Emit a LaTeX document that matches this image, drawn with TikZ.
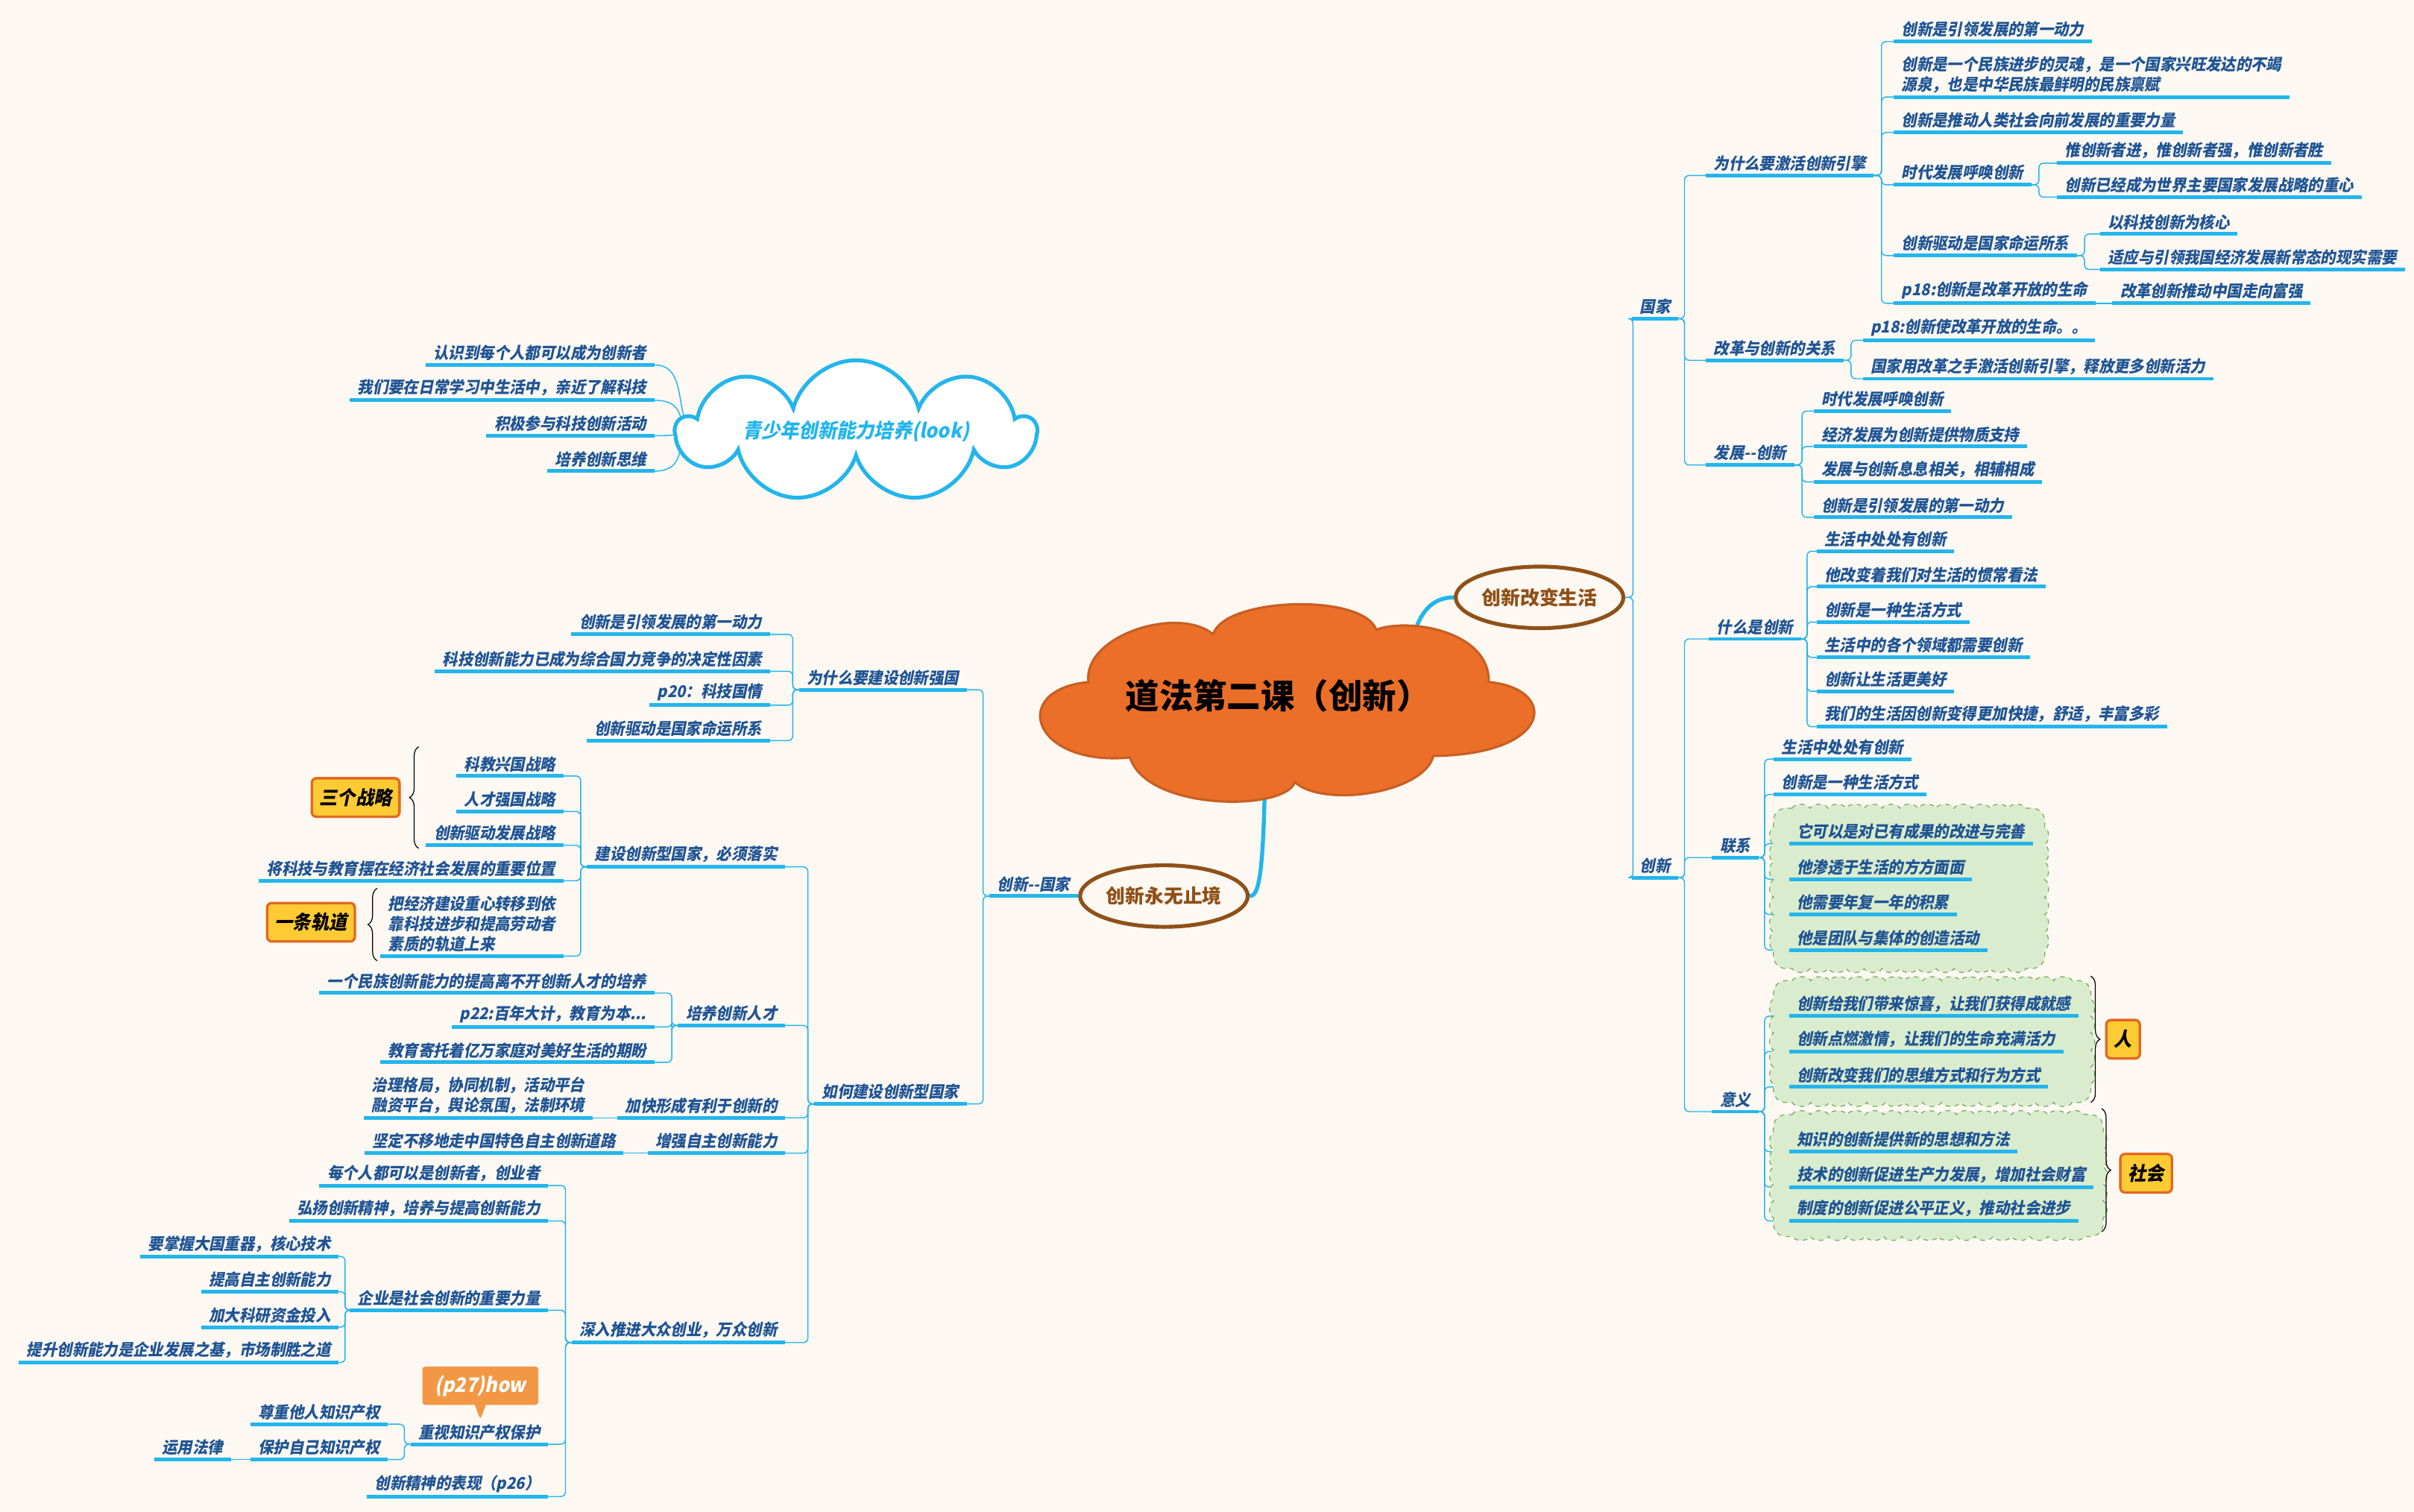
\documentclass[tikz,border=0pt]{standalone}
\usepackage{fontspec}
\setmainfont{Noto Sans CJK SC}
\newfontfamily\itfont[FakeSlant=0.2,FakeStretch=0.94]{Noto Sans CJK SC}
\usetikzlibrary{shapes.geometric,shapes.symbols,shapes.callouts}
\usetikzlibrary{decorations.pathreplacing}
\usetikzlibrary{backgrounds}
\definecolor{paperColor}{RGB}{253,248,242}
\definecolor{inkColor}{RGB}{31,84,148}
\definecolor{lineColor}{RGB}{35,181,236}
\definecolor{topicColor}{RGB}{143,80,24}
\definecolor{rootColor}{RGB}{235,111,40}
\colorlet{rootEdge}{rootColor!85!black}
\definecolor{greenFill}{RGB}{218,236,206}
\definecolor{greenEdge}{RGB}{112,173,90}
\definecolor{tagColor}{RGB}{255,203,52}
\definecolor{tagEdge}{RGB}{226,104,32}
\definecolor{noteColor}{RGB}{242,152,68}
\tikzset{
  uline/.style={draw=lineColor, line width=2.4pt},
  item/.style={font=\itfont\bfseries\fontsize{10.5}{13}\selectfont, text=inkColor,
    inner xsep=5pt, inner ysep=2.5pt, align=left,
    append after command={(\tikzlastnode.south west) edge[uline] (\tikzlastnode.south east)}},
  rnode/.style={item, anchor=south west},
  lnode/.style={item, anchor=south east},
  conn/.style={draw=lineColor, line width=0.7pt, rounded corners=3pt},
  mainlink/.style={draw=lineColor, line width=2.6pt},
  rootcloud/.style={fill=rootColor, draw=rootEdge, line width=1.5pt},
  roottext/.style={font=\bfseries\fontsize{22}{26}\selectfont},
  topic/.style={ellipse, draw=topicColor, line width=2.5pt, fill=paperColor, text=topicColor,
    minimum width=100pt, minimum height=40pt, inner sep=1pt,
    font=\bfseries\fontsize{12.5}{15}\selectfont},
  youthcloud/.style={cloud, cloud puffs=9, cloud ignores aspect, inner sep=0pt, fill=white,
    draw=lineColor, line width=2.5pt, minimum width=232pt, minimum height=92pt, text=lineColor,
    font=\itfont\bfseries\fontsize{13}{15}\selectfont},
  greencloud/.style={fill=greenFill, draw=greenEdge, dashed, line width=0.6pt},
  tag/.style={draw=tagEdge, line width=1.6pt, fill=tagColor, rounded corners=3pt,
    inner xsep=5pt, minimum height=25pt, font=\itfont\bfseries\fontsize{12.5}{15}\selectfont},
  bracket/.style={decorate, decoration={brace, amplitude=6pt}, line width=0.6pt},
  note/.style={rectangle callout, fill=noteColor, text=white, rounded corners=2pt,
    inner xsep=8pt, minimum height=25pt, font=\itfont\bfseries\fontsize{13}{15}\selectfont},
}
% scalloped box: x0 y0 x1 y1
\newcommand{\bubblebox}[4]{%
  \pgfmathsetmacro{\gbW}{#3-#1-24}
  \pgfmathtruncatemacro{\gbNx}{round(\gbW/12)}
  \pgfmathsetmacro{\gbSx}{\gbW/\gbNx}
  \pgfmathsetmacro{\gbH}{#4-#2-24}
  \pgfmathtruncatemacro{\gbNy}{round(\gbH/12)}
  \pgfmathsetmacro{\gbSy}{\gbH/\gbNy}
  \draw[greencloud] (#1+12,#2)
    \foreach \i in {1,...,\gbNx} { .. controls +(0.15*\gbSx,-3.5) and +(-0.15*\gbSx,-3.5) .. ++(\gbSx,0) }
    .. controls +(9,-1) and +(1,-9) .. ++(12,12)
    \foreach \i in {1,...,\gbNy} { .. controls +(3.5,0.15*\gbSy) and +(3.5,-0.15*\gbSy) .. ++(0,\gbSy) }
    .. controls +(1,9) and +(9,1) .. ++(-12,12)
    \foreach \i in {1,...,\gbNx} { .. controls +(-0.15*\gbSx,3.5) and +(0.15*\gbSx,3.5) .. ++(-\gbSx,0) }
    .. controls +(-9,1) and +(-1,9) .. ++(-12,-12)
    \foreach \i in {1,...,\gbNy} { .. controls +(-3.5,-0.15*\gbSy) and +(-3.5,0.15*\gbSy) .. ++(0,-\gbSy) }
    .. controls +(-1,-9) and +(-9,-1) .. ++(12,-12) -- cycle;
}

\begin{document}
\begin{tikzpicture}[x=1pt,y=-1pt]
  \useasboundingbox (0,0) rectangle (1568,982);

  % green backgrounds
  \bubblebox{1152}{525}{1328}{629}
  \bubblebox{1152}{637}{1358}{716}
  \bubblebox{1152}{724}{1366}{803}

  % centre cloud
  \draw[rootcloud] (707,443)
    .. controls (703,413) and (765,393) .. (788,412)
    .. controls (795,388) and (885,385) .. (894,409)
    .. controls (915,401) and (968,410) .. (967,443)
    .. controls (1012,447) and (1010,490) .. (931,491)
    .. controls (925,515) and (860,525) .. (841,508)
    .. controls (835,527) and (745,527) .. (734,492)
    .. controls (670,498) and (655,448) .. (707,443) -- cycle;
  \node[roottext] (root) at (830,452) {道法第二课（创新）};
  \node[topic] (life) at (1000,388) {创新改变生活};
  \node[topic] (endless) at (756,582) {创新永无止境};
  \node[youthcloud] (youth) at (556,280) {青少年创新能力培养(look)};

  % right side
  \node[rnode] (gj) at (1060,207) {国家};
  \node[rnode] (cx) at (1060,570) {创新};
  \node[rnode] (q1) at (1108,114) {为什么要激活创新引擎};
  \node[rnode] (q2) at (1108,234) {改革与创新的关系};
  \node[rnode] (q3) at (1108,302) {发展--创新};
  \node[rnode] (a1) at (1230,27) {创新是引领发展的第一动力};
  \node[rnode] (a2) at (1230,63) {创新是一个民族进步的灵魂，是一个国家兴旺发达的不竭\\源泉，也是中华民族最鲜明的民族禀赋};
  \node[rnode] (a3) at (1230,86) {创新是推动人类社会向前发展的重要力量};
  \node[rnode] (a4) at (1230,120) {时代发展呼唤创新};
  \node[rnode] (a41) at (1336,106) {惟创新者进，惟创新者强，惟创新者胜};
  \node[rnode] (a42) at (1336,128) {创新已经成为世界主要国家发展战略的重心};
  \node[rnode] (a5) at (1230,166) {创新驱动是国家命运所系};
  \node[rnode] (a51) at (1364,152) {以科技创新为核心};
  \node[rnode] (a52) at (1364,175) {适应与引领我国经济发展新常态的现实需要};
  \node[rnode] (a6) at (1230,197) {p18:创新是改革开放的生命};
  \node[rnode] (a61) at (1372,197) {改革创新推动中国走向富强};
  \node[rnode] (b1) at (1210,221) {p18:创新使改革开放的生命。。};
  \node[rnode] (b2) at (1210,246) {国家用改革之手激活创新引擎，释放更多创新活力};
  \node[rnode] (c1) at (1178,267) {时代发展呼唤创新};
  \node[rnode] (c2) at (1178,290) {经济发展为创新提供物质支持};
  \node[rnode] (c3) at (1178,313) {发展与创新息息相关，相辅相成};
  \node[rnode] (c4) at (1178,336) {创新是引领发展的第一动力};
  \node[rnode] (w1) at (1110,415) {什么是创新};
  \node[rnode] (w2) at (1112,557) {联系};
  \node[rnode] (w3) at (1112,722) {意义};
  \node[rnode] (d1) at (1180,358) {生活中处处有创新};
  \node[rnode] (d2) at (1180,381) {他改变着我们对生活的惯常看法};
  \node[rnode] (d3) at (1180,404) {创新是一种生活方式};
  \node[rnode] (d4) at (1180,427) {生活中的各个领域都需要创新};
  \node[rnode] (d5) at (1180,449) {创新让生活更美好};
  \node[rnode] (d6) at (1180,472) {我们的生活因创新变得更加快捷，舒适，丰富多彩};
  \node[rnode] (e1) at (1152,493) {生活中处处有创新};
  \node[rnode] (e2) at (1152,516) {创新是一种生活方式};
  \node[rnode] (e3) at (1162,548) {它可以是对已有成果的改进与完善};
  \node[rnode] (e4) at (1162,571) {他渗透于生活的方方面面};
  \node[rnode] (e5) at (1162,594) {他需要年复一年的积累};
  \node[rnode] (e6) at (1162,617) {他是团队与集体的创造活动};
  \node[rnode] (f1) at (1162,660) {创新给我们带来惊喜，让我们获得成就感};
  \node[rnode] (f2) at (1162,683) {创新点燃激情，让我们的生命充满活力};
  \node[rnode] (f3) at (1162,706) {创新改变我们的思维方式和行为方式};
  \node[rnode] (f4) at (1162,748) {知识的创新提供新的思想和方法};
  \node[rnode] (f5) at (1162,771) {技术的创新促进生产力发展，增加社会财富};
  \node[rnode] (f6) at (1162,793) {制度的创新促进公平正义，推动社会进步};
  \node[tag] (person) at (1379,675) {人};
  \node[tag] (society) at (1394,762) {社会};
  \draw[bracket] (1358,634) -- (1358,716);
  \draw[bracket] (1365,720) -- (1365,800);

  % left side
  \node[lnode] (gk) at (700,582) {创新--国家};
  \node[lnode] (h1) at (628,448) {为什么要建设创新强国};
  \node[lnode] (h2) at (628,717) {如何建设创新型国家};
  \node[lnode] (i1) at (500,412) {创新是引领发展的第一动力};
  \node[lnode] (i2) at (500,436) {科技创新能力已成为综合国力竞争的决定性因素};
  \node[lnode] (i3) at (500,458) {p20：科技国情};
  \node[lnode] (i4) at (500,481) {创新驱动是国家命运所系};
  \node[lnode] (j1) at (510,563) {建设创新型国家，必须落实};
  \node[lnode] (j2) at (510,666) {培养创新人才};
  \node[lnode] (j3) at (510,726) {加快形成有利于创新的};
  \node[lnode] (j4) at (510,749) {增强自主创新能力};
  \node[lnode] (j5) at (510,872) {深入推进大众创业，万众创新};
  \node[lnode] (k1) at (366,504) {科教兴国战略};
  \node[lnode] (k2) at (366,527) {人才强国战略};
  \node[lnode] (k3) at (366,549) {创新驱动发展战略};
  \node[lnode] (k4) at (366,572) {将科技与教育摆在经济社会发展的重要位置};
  \node[lnode] (k5) at (366,621) {把经济建设重心转移到依\\靠科技进步和提高劳动者\\素质的轨道上来};
  \node[lnode] (l1) at (425,645) {一个民族创新能力的提高离不开创新人才的培养};
  \node[lnode] (l2) at (425,667) {p22:百年大计，教育为本...};
  \node[lnode] (l3) at (425,690) {教育寄托着亿万家庭对美好生活的期盼};
  \node[lnode] (m1) at (385,726) {治理格局，协同机制，活动平台\\融资平台，舆论氛围，法制环境};
  \node[lnode] (n1) at (405,749) {坚定不移地走中国特色自主创新道路};
  \node[lnode] (o1) at (356,770) {每个人都可以是创新者，创业者};
  \node[lnode] (o2) at (356,793) {弘扬创新精神，培养与提高创新能力};
  \node[lnode] (o3) at (356,851) {企业是社会创新的重要力量};
  \node[lnode] (o4) at (356,938) {重视知识产权保护};
  \node[lnode] (o5) at (356,972) {创新精神的表现（p26）};
  \node[lnode] (p1) at (220,816) {要掌握大国重器，核心技术};
  \node[lnode] (p2) at (220,839) {提高自主创新能力};
  \node[lnode] (p3) at (220,862) {加大科研资金投入};
  \node[lnode] (p4) at (220,885) {提升创新能力是企业发展之基，市场制胜之道};
  \node[lnode] (r1) at (252,925) {尊重他人知识产权};
  \node[lnode] (r2) at (252,948) {保护自己知识产权};
  \node[lnode] (r3) at (150,948) {运用法律};
  \node[tag] (three) at (231,518) {三个战略};
  \node[tag] (track) at (202,599) {一条轨道};
  \draw[bracket] (272,551) -- (272,485);
  \draw[bracket] (245,624) -- (245,577);
  \coordinate (notetip) at (312,922);
  \node[note, callout absolute pointer={(notetip)}] (howto) at (312,900) {(p27)how};

  % youth cloud items
  \node[lnode] (y1) at (425,237) {认识到每个人都可以成为创新者};
  \node[lnode] (y2) at (425,260) {我们要在日常学习中生活中，亲近了解科技};
  \node[lnode] (y3) at (425,283) {积极参与科技创新活动};
  \node[lnode] (y4) at (425,306) {培养创新思维};

  \begin{scope}[on background layer]
    \fill[paperColor] (0,0) rectangle (1568,982);
    \draw[mainlink] ([xshift=85pt,yshift=20pt]root.center) .. controls (918,398) and (930,388) .. (life.west);
    \draw[mainlink] ([xshift=-8pt]root.center) .. controls (822,570) and (818,582) .. (endless.east);
    \foreach \kid in {y1,y2,y3,y4}
      \draw[conn] (\kid.south east) .. controls +(25,0) and +(-20,0) .. ([xshift=18pt]youth.west);

    % connectors, right
    \foreach \kid in {gj,cx} \draw[conn] (life.east) -- ++(5,0) |- (\kid.south west);
    \foreach \kid in {q1,q2,q3} \draw[conn] (gj.south east) -- ++(4,0) |- (\kid.south west);
    \foreach \kid in {w1,w2,w3} \draw[conn] (cx.south east) -- ++(4,0) |- (\kid.south west);
    \foreach \kid in {a1,a2,a3,a4,a5,a6} \draw[conn] (q1.south east) -- ++(5,0) |- (\kid.south west);
    \foreach \kid in {a41,a42} \draw[conn] (a4.south east) -- ++(5,0) |- (\kid.south west);
    \foreach \kid in {a51,a52} \draw[conn] (a5.south east) -- ++(5,0) |- (\kid.south west);
    \draw[conn] (a6.south east) -- (a61.south west);
    \foreach \kid in {b1,b2} \draw[conn] (q2.south east) -- ++(5,0) |- (\kid.south west);
    \foreach \kid in {c1,c2,c3,c4} \draw[conn] (q3.south east) -- ++(5,0) |- (\kid.south west);
    \foreach \kid in {d1,d2,d3,d4,d5,d6} \draw[conn] (w1.south east) -- ++(4,0) |- (\kid.south west);
    \foreach \kid in {e1,e2,e3,e4,e5,e6} \draw[conn] (w2.south east) -- ++(4,0) |- (\kid.south west);
    \foreach \kid in {f1,f2,f3,f4,f5,f6} \draw[conn] (w3.south east) -- ++(4,0) |- (\kid.south west);

    % connectors, left
    \draw[conn] (endless.west) -- (gk.south east);
    \foreach \kid in {h1,h2} \draw[conn] (gk.south west) -- ++(-4,0) |- (\kid.south east);
    \foreach \kid in {i1,i2,i3,i4} \draw[conn] (h1.south west) -- ++(-4,0) |- (\kid.south east);
    \foreach \kid in {j1,j2,j3,j4,j5} \draw[conn] (h2.south west) -- ++(-4,0) |- (\kid.south east);
    \foreach \kid in {k1,k2,k3,k4,k5} \draw[conn] (j1.south west) -- ++(-4,0) |- (\kid.south east);
    \foreach \kid in {l1,l2,l3} \draw[conn] (j2.south west) -- ++(-4,0) |- (\kid.south east);
    \draw[conn] (j3.south west) -- (m1.south east);
    \draw[conn] (j4.south west) -- (n1.south east);
    \foreach \kid in {o1,o2,o3,o4,o5} \draw[conn] (j5.south west) -- ++(-4,0) |- (\kid.south east);
    \foreach \kid in {p1,p2,p3,p4} \draw[conn] (o3.south west) -- ++(-3,0) |- (\kid.south east);
    \foreach \kid in {r1,r2} \draw[conn] (o4.south west) -- ++(-4,0) |- (\kid.south east);
    \draw[conn] (r2.south west) -- (r3.south east);
  \end{scope}
\end{tikzpicture}
\end{document}
